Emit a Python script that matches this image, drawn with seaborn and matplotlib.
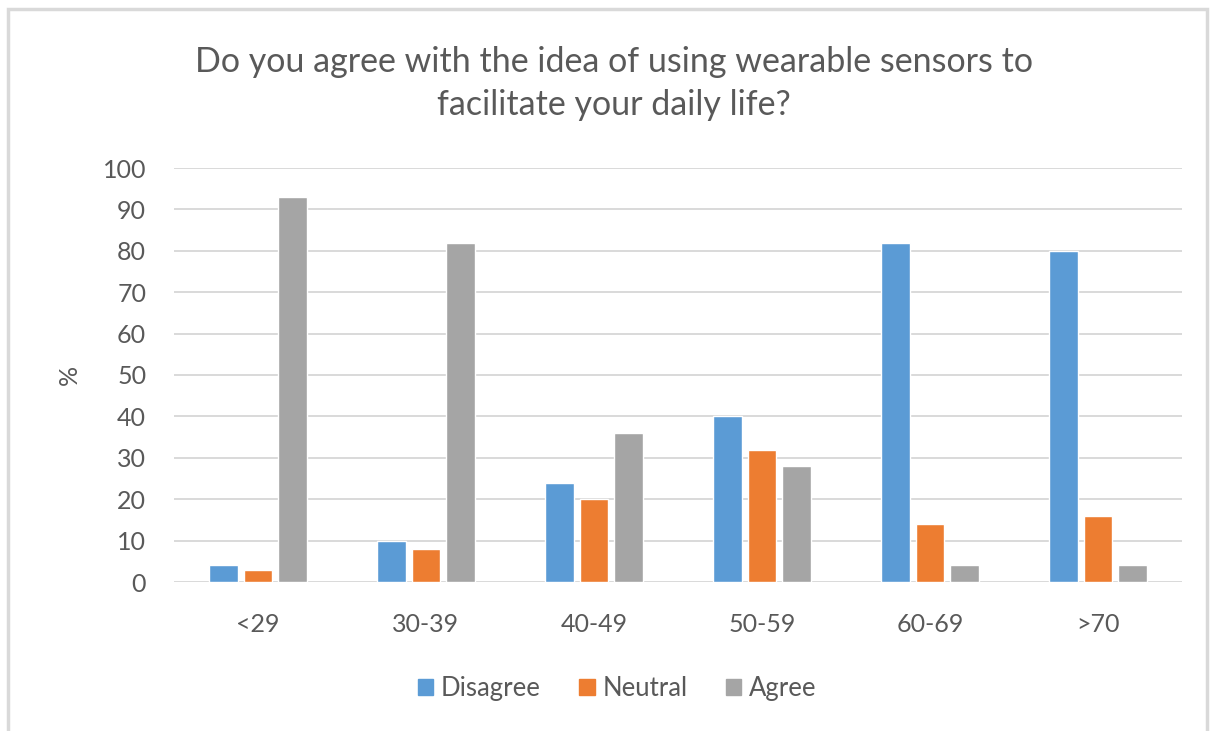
import matplotlib
matplotlib.use("Agg")
import matplotlib.pyplot as plt
from matplotlib.patches import Rectangle
import seaborn as sns
import pandas as pd

age_groups = ["<29", "30-39", "40-49", "50-59", "60-69", ">70"]
disagree = [4, 10, 24, 40, 82, 80]
neutral = [3, 8, 20, 32, 14, 16]
agree = [93, 82, 36, 28, 4, 4]
responses = ["Disagree", "Neutral", "Agree"]
colors = ["#5B9BD5", "#ED7D31", "#A5A5A5"]

rows = []
for name, vals in zip(responses, [disagree, neutral, agree]):
    for g, v in zip(age_groups, vals):
        rows.append({"Age": g, "Response": name, "Percent": v})
df = pd.DataFrame(rows)

sns.set_theme(style="white")
plt.rcParams["font.family"] = ["Lato", "DejaVu Sans"]
text_color = "#595959"

fig = plt.figure(figsize=(12.15, 7.31), dpi=100)
ax = fig.add_axes([174 / 1215, 1 - 582 / 731, 1008 / 1215, 414 / 731])

sns.barplot(data=df, x="Age", y="Percent", hue="Response",
            hue_order=responses, order=age_groups, palette=colors,
            width=0.62, gap=0.17, saturation=1, ax=ax, legend=False)

ax.set_ylim(0, 100)
ax.set_yticks(range(0, 101, 10))
ax.set_xlim(-0.5, len(age_groups) - 0.5)
ax.yaxis.grid(True, color="#D9D9D9", linewidth=1.4)
ax.set_axisbelow(True)
for s in ax.spines.values():
    s.set_visible(False)
ax.tick_params(axis="both", length=0, labelsize=18, labelcolor=text_color)
ax.tick_params(axis="y", pad=20)
ax.tick_params(axis="x", pad=22)
ax.set_xlabel("")
ax.set_ylabel("%", fontsize=18, color=text_color, labelpad=16)

fig.text(0.505, 0.886,
         "Do you agree with the idea of using wearable sensors to\nfacilitate your daily life?",
         ha="center", va="center", fontsize=24.5, color=text_color,
         linespacing=1.4)

handles = [Rectangle((0, 0), 1, 1, color=c) for c in colors]
fig.legend(handles, responses, loc="center", bbox_to_anchor=(0.508, 0.058),
           ncol=3, frameon=False, fontsize=18.5, handlelength=0.6,
           handleheight=0.6, handletextpad=0.3, columnspacing=1.5,
           labelcolor=text_color)

fig.patches.append(Rectangle((8 / 1215, -0.01), 1199 / 1215, 0.999 - 8 / 731 + 0.01,
                             transform=fig.transFigure, fill=False,
                             edgecolor="#D9D9D9", linewidth=2.5))

fig.savefig("out.png", dpi=100, facecolor="white")
